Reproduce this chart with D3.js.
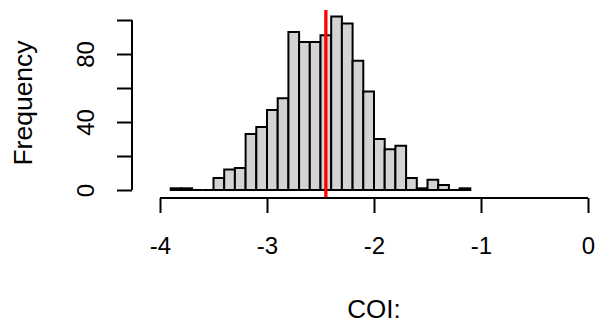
<!DOCTYPE html>
<html>
<head>
<meta charset="utf-8">
<script src="https://cdn.jsdelivr.net/npm/d3@7"></script>
<style>
  html, body { margin: 0; padding: 0; background: #fff; }
  svg { display: block; font-family: "Liberation Sans", Arial, sans-serif; }
</style>
</head>
<body>
<svg id="chart" width="597" height="325"></svg>
<script>
// Histogram of COI values (bin width 0.1)
const binStarts = [-3.9, -3.8, -3.7, -3.6, -3.5, -3.4, -3.3, -3.2, -3.1, -3.0,
                   -2.9, -2.8, -2.7, -2.6, -2.5, -2.4, -2.3, -2.2, -2.1, -2.0,
                   -1.9, -1.8, -1.7, -1.6, -1.5, -1.4, -1.3, -1.2];
const counts = [1, 1, 0, 0, 7, 12, 13, 33, 37, 47,
                54, 93, 87, 87, 91, 102, 98, 76, 58, 30,
                24, 26, 7, 1, 6, 3, 0, 1];
const binWidth = 0.1;
const markerValue = -2.45;
const xTicks = [-4, -3, -2, -1, 0];
const yTicks = [0, 20, 40, 60, 80, 100];
const yLabelTicks = [0, 40, 80];

const svg = d3.select("#chart");

const x = d3.scaleLinear().domain([-4, 0]).range([160, 588]);
const y = d3.scaleLinear().domain([0, 100]).range([190, 20]);

const bins = binStarts.map((s, i) => ({ x0: s, x1: s + binWidth, n: counts[i] }));

// bars drawn as closed paths so empty bins still show as a flat outline
svg.append("g")
  .selectAll("path")
  .data(bins)
  .join("path")
  .attr("d", d => {
    const p = d3.path();
    p.moveTo(x(d.x0), y(0));
    p.lineTo(x(d.x0), y(d.n));
    p.lineTo(x(d.x1), y(d.n));
    p.lineTo(x(d.x1), y(0));
    p.closePath();
    return p.toString();
  })
  .attr("fill", "#d3d3d3")
  .attr("stroke", "#000")
  .attr("stroke-width", 2)
  .attr("stroke-linejoin", "miter");

// vertical marker
svg.append("line")
  .attr("x1", x(markerValue)).attr("x2", x(markerValue))
  .attr("y1", y(105.9)).attr("y2", y(-4.1))
  .attr("stroke", "#ff0000")
  .attr("stroke-width", 3.3);

// x axis
const xAxis = d3.axisBottom(x).tickValues(xTicks).tickSize(15).tickPadding(24)
  .tickFormat(d => d === 0 ? "0" : "-" + Math.abs(d));
const gx = svg.append("g").attr("transform", "translate(0,198)").call(xAxis);
gx.select(".domain").attr("d", `M${x(-4)},0H${x(0)}`).attr("stroke-width", 2);
gx.selectAll(".tick line").attr("stroke-width", 2);
gx.selectAll(".tick text").attr("font-size", 24).attr("fill", "#000")
  .attr("font-family", "Liberation Sans, Arial, sans-serif");

// y axis
const yAxis = d3.axisLeft(y).tickValues(yTicks).tickSize(15)
  .tickFormat(d => yLabelTicks.includes(d) ? d : "");
const gy = svg.append("g").attr("transform", "translate(132,0)").call(yAxis);
gy.select(".domain").attr("d", `M0,${y(0)}V${y(100)}`).attr("stroke-width", 2);
gy.selectAll(".tick line").attr("stroke-width", 2);
gy.selectAll(".tick text")
  .attr("font-size", 24).attr("fill", "#000")
  .attr("font-family", "Liberation Sans, Arial, sans-serif")
  .attr("text-anchor", "middle")
  .attr("x", 0).attr("dy", 0)
  .attr("transform", "translate(-47,0) rotate(-90)")
  .attr("dominant-baseline", "central");

// axis titles
svg.append("text")
  .attr("x", x(-2)).attr("y", 318)
  .attr("text-anchor", "middle")
  .attr("font-size", 26)
  .text("COI:");

svg.append("text")
  .attr("transform", "translate(32,103) rotate(-90)")
  .attr("text-anchor", "middle")
  .attr("font-size", 26.5)
  .text("Frequency");
</script>
</body>
</html>
